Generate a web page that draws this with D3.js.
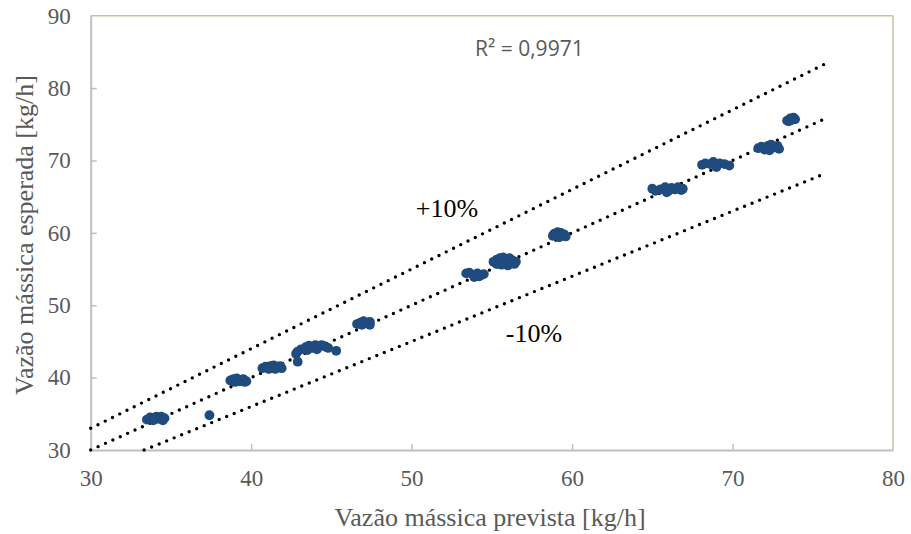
<!DOCTYPE html>
<html>
<head>
<meta charset="utf-8">
<script src="https://cdn.jsdelivr.net/npm/d3@7/dist/d3.min.js"></script>
<style>
  html, body { margin: 0; padding: 0; background: #fff; }
  svg { display: block; }
</style>
</head>
<body>
<svg id="chart" width="911" height="534"></svg>
<script>
// Predicted vs expected mass flow, grouped by test run
const predicted = [
  33.5, 33.7, 33.9, 34.1, 34.2, 34.4, 34.6, 34.5, 33.9,
  37.4,
  38.7, 38.9, 39.1, 39.3, 39.5, 39.7, 39.6, 39.0, 39.3,
  40.7, 40.9, 41.2, 41.4, 41.6, 41.8, 41.9, 41.5, 41.1,
  42.8, 42.9, 43.1, 43.4, 43.6, 43.8, 44.0, 44.2, 44.4, 44.6, 44.8, 43.5, 44.1, 42.9, 45.3,
  46.6, 46.8, 47.0, 47.2, 47.4, 47.4, 46.9,
  53.4, 53.6, 53.9, 54.1, 54.3, 54.5, 53.9, 54.2,
  55.1, 55.3, 55.5, 55.7, 55.9, 56.1, 56.3, 56.5, 56.4, 56.0, 55.6, 55.3, 55.8,
  58.8, 58.9, 59.1, 59.3, 59.5, 59.6, 59.2,
  65.0, 65.2, 65.5, 65.8, 66.0, 66.2, 66.4, 66.6, 66.8, 66.9, 65.9,
  68.1, 68.3, 68.6, 68.8, 69.0, 69.2, 69.0, 69.5, 69.8,
  71.6, 71.8, 72.0, 72.2, 72.4, 72.6, 72.8, 72.9, 72.3,
  73.4, 73.6, 73.8, 73.9, 73.5, 73.7
];
const expected = [
  34.2, 34.5, 34.4, 34.6, 34.3, 34.6, 34.4, 34.1, 34.1,
  34.8,
  39.6, 39.8, 39.9, 39.7, 39.8, 39.5, 39.4, 39.4, 39.5,
  41.3, 41.5, 41.6, 41.7, 41.5, 41.6, 41.3, 41.2, 41.2,
  43.3, 43.6, 43.9, 44.2, 44.4, 44.1, 44.5, 44.3, 44.5, 44.3, 44.1, 43.8, 43.9, 42.2, 43.7,
  47.4, 47.6, 47.8, 47.6, 47.7, 47.3, 47.3,
  54.4, 54.5, 54.2, 54.4, 54.1, 54.3, 53.9, 54.0,
  56.0, 56.3, 56.5, 56.6, 56.4, 56.5, 56.2, 56.0, 55.7, 55.5, 55.6, 55.7, 56.0,
  59.6, 59.9, 60.1, 60.0, 59.8, 59.5, 59.4,
  66.1, 65.8, 66.0, 66.3, 65.8, 66.2, 66.0, 66.3, 65.9, 66.1, 65.6,
  69.4, 69.6, 69.5, 69.8, 69.4, 69.6, 69.1, 69.5, 69.3,
  71.7, 71.9, 71.5, 72.0, 72.2, 71.8, 72.0, 71.6, 71.4,
  75.5, 75.8, 75.9, 75.7, 75.4, 75.6
];

// Reference lines: ideal agreement and the ±10 % band
const refFactors = [1.1, 1.0, 0.9];
const refStart = [30, 30, 33.33];
const refEnd = 75.8;

const xTicks = [30, 40, 50, 60, 70, 80];
const yTicks = [30, 40, 50, 60, 70, 80, 90];

const xTitle = "Vazão mássica prevista [kg/h]";
const yTitle = "Vazão mássica esperada [kg/h]";
const r2Label = "R² = 0,9971";
const bandLabels = ["+10%", "-10%"];

const svg = d3.select("#chart");
const plotL = 90.7, plotR = 893, plotT = 15.7, plotB = 450;

const x = d3.scaleLinear().domain([30, 80]).range([plotL, plotR]);
const y = d3.scaleLinear().domain([30, 90]).range([plotB, plotT]);

const serif = "'Liberation Serif', 'Times New Roman', serif";
const grayText = "#595959";

// Frame: tan top/right edges, gray axes
svg.append("line").attr("x1", plotL).attr("x2", plotR).attr("y1", plotT).attr("y2", plotT)
  .attr("stroke", "#c9c19b").attr("stroke-width", 1.5);
svg.append("line").attr("x1", plotR).attr("x2", plotR).attr("y1", plotT).attr("y2", plotB)
  .attr("stroke", "#c9c19b").attr("stroke-width", 1.5);

const xAxis = svg.append("g").attr("transform", `translate(0,${plotB})`)
  .call(d3.axisBottom(x).tickValues(xTicks).tickSizeInner(-6).tickSizeOuter(0).tickPadding(22));
const yAxis = svg.append("g").attr("transform", `translate(${plotL},0)`)
  .call(d3.axisLeft(y).tickValues(yTicks).tickSizeInner(-6).tickSizeOuter(0).tickPadding(20));

[xAxis, yAxis].forEach(g => {
  g.select(".domain").attr("stroke", "#bfbfbf").attr("stroke-width", 2);
  g.selectAll(".tick line").attr("stroke", "#bfbfbf").attr("stroke-width", 1.5);
  g.selectAll(".tick text").attr("fill", grayText)
    .style("font-family", serif).style("font-size", "23px");
});
xAxis.selectAll(".tick text").attr("dy", null).attr("y", 36);
xAxis.selectAll(".tick").filter(d => d === 30 || d === 80).select("line").remove();
yAxis.selectAll(".tick").filter(d => d === 30 || d === 90).select("line").remove();

// Axis titles
svg.append("text").attr("x", 490).attr("y", 526)
  .attr("text-anchor", "middle").attr("fill", grayText)
  .style("font-family", serif).style("font-size", "26px").text(xTitle);
svg.append("text").attr("transform", "translate(33,235) rotate(-90)")
  .attr("text-anchor", "middle").attr("fill", grayText)
  .style("font-family", serif).style("font-size", "26px").text(yTitle);

// Dotted reference lines
const line = d3.line().x(d => x(d[0])).y(d => y(d[1]));
refFactors.forEach((f, i) => {
  svg.append("path")
    .attr("d", line([[refStart[i], refStart[i] * f], [refEnd, refEnd * f]]))
    .attr("fill", "none").attr("stroke", "#000").attr("stroke-width", 3.4)
    .attr("stroke-linecap", "round").attr("stroke-dasharray", "0 8.1");
});

// Measurements
svg.append("g").selectAll("circle")
  .data(predicted.map((p, i) => [p, expected[i]]))
  .join("circle")
  .attr("cx", d => x(d[0])).attr("cy", d => y(d[1])).attr("r", 4.9)
  .attr("fill", "#1f4b7f");

// Annotations
svg.append("text").attr("x", 475).attr("y", 56).attr("fill", grayText)
  .style("font-family", "'Open Sans', 'Liberation Sans', sans-serif").style("font-size", "21px")
  .text(r2Label);
svg.append("text").attr("x", 447).attr("y", 217).attr("text-anchor", "middle").attr("fill", "#000")
  .style("font-family", serif).style("font-size", "26px").text(bandLabels[0]);
svg.append("text").attr("x", 534).attr("y", 342).attr("text-anchor", "middle").attr("fill", "#000")
  .style("font-family", serif).style("font-size", "26px").text(bandLabels[1]);
</script>
</body>
</html>
